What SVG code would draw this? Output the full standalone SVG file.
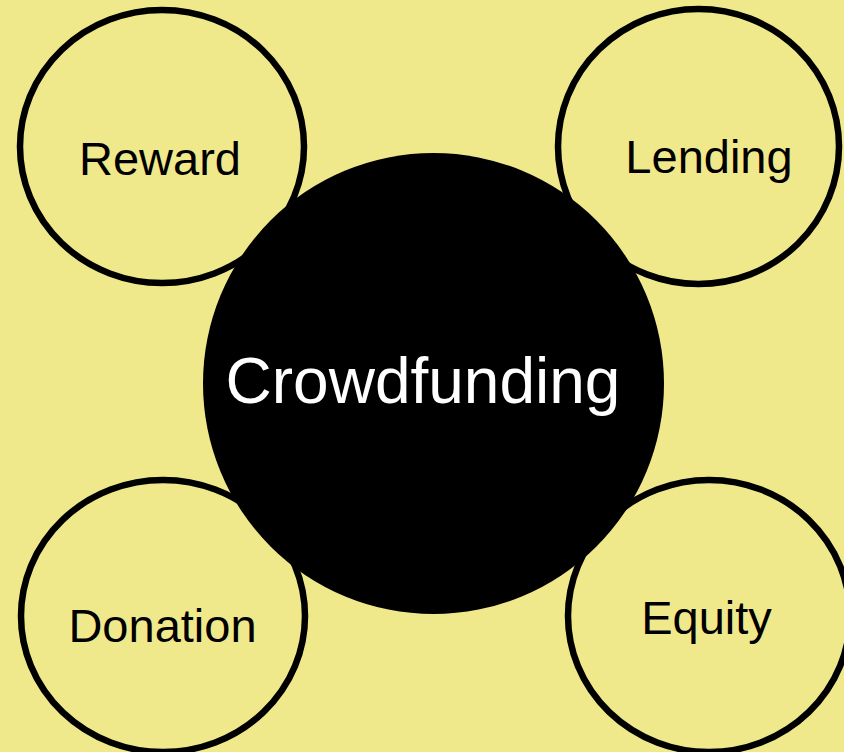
<svg xmlns="http://www.w3.org/2000/svg" width="844" height="752" viewBox="0 0 844 752">
<style>
.sat{fill:#F0E98C;stroke:#000;stroke-width:6.5}
.lbl{font-family:"Liberation Sans",Arial,sans-serif;font-size:47px;fill:#000;text-anchor:middle}
.hub{fill:#000}
.hublbl{font-family:"Liberation Sans",Arial,sans-serif;font-size:64px;fill:#fff;text-anchor:middle}
</style>
<rect width="844" height="752" fill="#F0E98C"/>
<g id="connectors"></g>
<g id="reward"><ellipse class="sat" cx="162" cy="146.5" rx="142" ry="136.5"/><text class="lbl" x="160" y="175">Reward</text></g>
<g id="lending"><ellipse class="sat" cx="698.5" cy="146.5" rx="140.5" ry="137.5"/><text class="lbl" x="709" y="173">Lending</text></g>
<g id="donation"><ellipse class="sat" cx="163" cy="616" rx="142" ry="136"/><text class="lbl" x="162.5" y="642">Donation</text></g>
<g id="equity"><ellipse class="sat" cx="709" cy="616" rx="141" ry="136"/><text class="lbl" x="706.5" y="634">Equity</text></g>
<g id="crowdfunding"><circle class="hub" cx="433.5" cy="383.5" r="230.5"/><text class="hublbl" x="423" y="403">Crowdfunding</text></g>
</svg>
